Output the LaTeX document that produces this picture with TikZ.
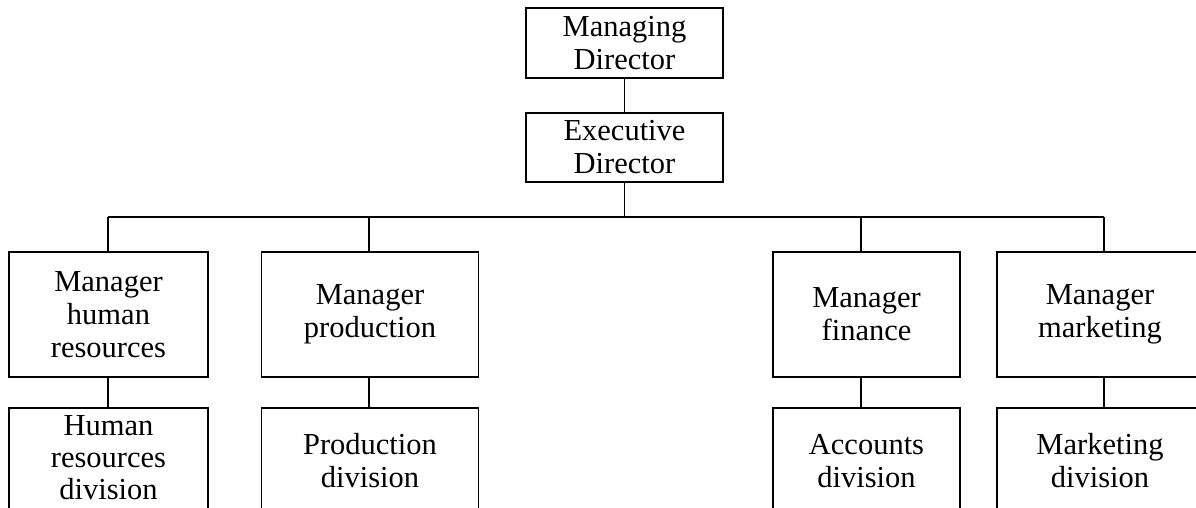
\documentclass[tikz,border=0pt]{standalone}
\usepackage{fontspec}
\setmainfont{Liberation Serif}
\begin{document}
\begin{tikzpicture}[x=1pt,y=-1pt,
  box/.style={draw, line width=1.7pt, rectangle, anchor=north west, inner sep=0pt, outer sep=0pt,
    align=center, font=\fontsize{30.5}{33}\selectfont},
  link/.style={line width=1.7pt}]
\clip (0,0) rectangle (1196,508);
% top
\node[box, minimum width=197pt, minimum height=70pt] (md) at (526,8) {Managing\\Director};
\node[box, minimum width=197pt, minimum height=69pt] (ed) at (526,113) {Executive\\Director};
% managers
\node[box, minimum width=199pt, minimum height=125pt] (m1) at (9,252) {Manager\\human\\resources};
\node[box, minimum width=217pt, minimum height=125pt] (m2) at (261.5,252) {Manager\\production};
\node[box, minimum width=187pt, minimum height=125pt] (m3) at (773,252) {Manager\\finance};
\node[box, minimum width=206pt, minimum height=125pt] (m4) at (997,252) {Manager\\marketing};
% divisions
\node[box, minimum width=199pt, minimum height=106pt, text depth=7pt, font=\fontsize{30.5}{32}\selectfont] (d1) at (9,408) {Human\\resources\\division};
\node[box, minimum width=217pt, minimum height=106pt] (d2) at (261.5,408) {Production\\division};
\node[box, minimum width=187pt, minimum height=106pt] (d3) at (773,408) {Accounts\\division};
\node[box, minimum width=206pt, minimum height=106pt] (d4) at (997,408) {Marketing\\division};
% bus coordinates
\coordinate (b1) at (108,217);
\coordinate (b2) at (369,217);
\coordinate (b3) at (861,217);
\coordinate (b4) at (1104,217);
% connectors
\draw[link] (md.south) -- (ed.north);
\draw[link] (ed.south) -- (ed.south |- b1);
\draw[link] (b1) -- (b4);
\draw[link] (b1) -- (b1 |- m1.north);
\draw[link] (b2) -- (b2 |- m2.north);
\draw[link] (b3) -- (b3 |- m3.north);
\draw[link] (b4) -- (b4 |- m4.north);
\draw[link] (b1 |- m1.south) -- (b1 |- d1.north);
\draw[link] (b2 |- m2.south) -- (b2 |- d2.north);
\draw[link] (b3 |- m3.south) -- (b3 |- d3.north);
\draw[link] (b4 |- m4.south) -- (b4 |- d4.north);
\end{tikzpicture}
\end{document}
